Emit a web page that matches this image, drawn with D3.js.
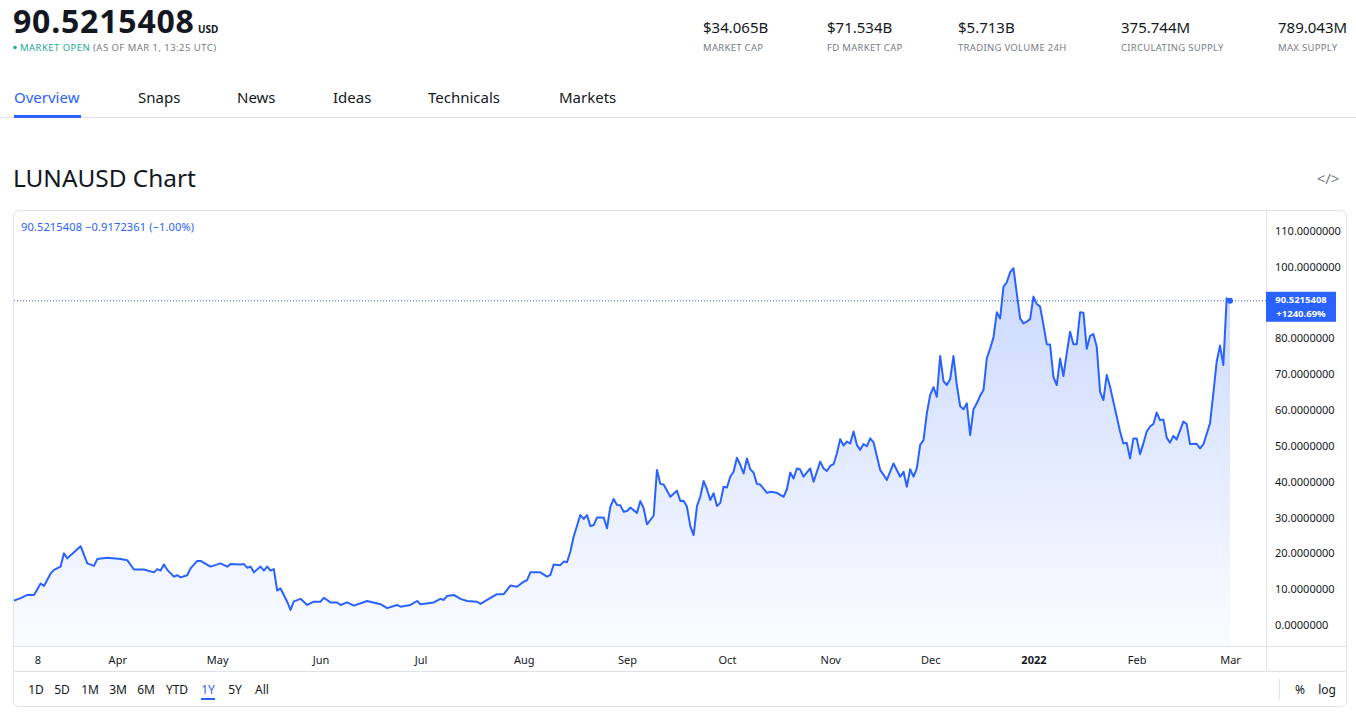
<!DOCTYPE html>
<meta charset="utf-8">
<script src="https://d3js.org/d3.v7.min.js"></script>
<style>
  body { margin: 0; background: #fff; }
  svg { display: block; font-family: "Noto Sans", sans-serif; }
</style>
<div id="page"></div>
<script>

// sampled daily closes, offsets counted in days from the first date
var firstDate = "2021-03-01";
var dayOffsets = [0,2,4,6,8,9,11,12,14,15,16,17,20,22,24,25,28,32,34,36,39,42,43,44,45,46,48,49,50,52,53,55,56,59,62,64,65,68,69,70,71,72,74,75,76,77,78,79,80,82,83,84,86,88,90,92,93,95,97,98,100,102,106,110,112,115,116,119,121,122,126,128,129,130,132,134,136,139,140,142,145,147,149,151,153,154,155,158,160,161,162,164,165,166,167,168,170,171,172,173,174,175,177,178,179,180,181,182,183,184,185,187,188,189,190,192,193,194,195,197,199,200,201,202,203,204,205,206,207,208,209,210,211,212,213,214,215,216,217,218,219,220,221,222,223,224,226,227,229,231,232,233,234,235,236,237,239,240,242,243,244,245,246,247,248,249,250,251,252,253,254,255,256,257,258,260,262,264,266,267,268,269,270,271,272,273,274,275,276,277,278,279,280,281,282,283,284,285,286,287,288,289,290,291,292,293,294,295,296,297,298,299,300,301,302,303,304,305,306,307,308,309,310,311,312,313,314,315,316,317,318,319,320,321,322,323,324,325,326,327,328,329,330,331,332,333,334,335,336,337,338,339,340,341,342,343,344,345,346,347,348,349,351,352,353,355,356,357,359,360,361,362,363,364,365];
var prices = [6.8,7.5,8.4,8.4,11.6,10.9,14.4,15.4,16.3,20.0,18.6,19.5,22.0,17.2,16.5,18.4,18.8,18.4,18.1,15.5,15.5,14.7,15.6,15.2,16.9,15.4,13.5,13.9,13.3,13.9,15.8,17.9,17.9,16.3,17.2,16.3,17.0,16.9,17.0,16.0,16.3,14.7,16.3,15.2,16.3,15.2,15.6,9.6,10.2,6.5,4.2,6.6,7.3,5.6,6.5,6.5,7.6,6.3,6.3,5.6,6.3,5.4,6.7,5.8,4.7,5.6,5.1,5.6,6.7,5.8,6.3,7.3,7.0,8.1,8.4,7.3,6.7,6.5,5.9,7.0,8.6,8.6,11.0,10.7,12.1,12.5,14.7,14.7,13.5,14.0,16.9,16.7,17.7,17.5,20.5,24.7,30.7,29.6,30.7,27.6,27.9,30.0,30.0,27.0,33.0,35.2,33.5,33.4,31.6,31.8,32.8,31.3,34.6,32.6,28.1,30.5,43.3,39.4,39.2,35.8,37.5,34.6,34.7,33.0,27.6,25.1,33.2,35.8,40.2,37.9,34.9,36.8,33.2,34.1,38.6,38.4,41.4,42.8,46.7,44.7,42.3,46.5,43.5,42.5,39.4,39.2,36.9,37.2,36.9,35.8,37.9,42.6,40.9,43.7,43.4,41.4,43.7,40.0,45.6,43.7,43.0,44.4,44.9,47.9,51.9,50.1,51.2,50.7,54.0,50.3,48.9,50.5,49.9,52.1,51.0,43.3,40.5,45.1,41.4,42.8,38.6,43.5,41.4,43.7,50.3,51.6,59.1,64.2,66.4,63.7,75.1,68.1,67.0,68.6,75.1,67.0,61.1,60.2,61.9,53.0,60.2,61.9,64.0,65.6,74.4,77.2,80.3,87.3,85.6,94.4,95.7,98.5,99.6,92.6,85.6,84.2,84.7,85.4,91.7,89.6,88.9,83.8,78.4,78.3,69.3,67.0,74.4,69.5,75.9,81.9,78.4,78.4,87.3,87.2,77.1,80.7,81.2,77.7,65.1,62.8,69.8,66.5,62.3,58.2,54.0,50.7,50.9,46.5,52.1,52.1,47.7,50.7,54.0,55.4,56.1,59.3,57.2,57.4,52.3,50.9,52.8,51.8,56.8,56.1,50.5,50.6,49.3,50.4,56.3,64.7,73.5,78.0,72.6,91.2,90.5215408];

var yTicks = [0,10,20,30,40,50,60,70,80,90,100,110].filter(function(v) { return v != 90; });
var xTickDates = ["2021-03-08","2021-04-01","2021-05-01","2021-06-01","2021-07-01","2021-08-01","2021-09-01","2021-10-01","2021-11-01","2021-12-01","2022-01-01","2022-02-01","2022-03-01"];
var xTickLabels = ["8","Apr","May","Jun","Jul","Aug","Sep","Oct","Nov","Dec","2022","Feb","Mar"];

var statValues = ["$34.065B","$71.534B","$5.713B","375.744M","789.043M"];
var statLabels = ["MARKET CAP","FD MARKET CAP","TRADING VOLUME 24H","CIRCULATING SUPPLY","MAX SUPPLY"];
var tabNames = ["Overview","Snaps","News","Ideas","Technicals","Markets"];
var rangeNames = ["1D","5D","1M","3M","6M","YTD","1Y","5Y","All"];

var W = 1356, H = 712;
var blue = "#2962ff", ink = "#131722", grey = "#787b86", rule = "#e0e3eb";

var svg = d3.select("#page").append("svg")
    .attr("width", W)
    .attr("height", H);

// ---- header ----
var head = svg.append("g");
head.append("text").attr("x", 13).attr("y", 33)
    .attr("font-size", 32).attr("font-weight", 700).attr("fill", ink)
    .attr("letter-spacing", 0.8)
    .text("90.5215408");
head.append("text").attr("x", 198).attr("y", 33)
    .attr("font-size", 10).attr("font-weight", 700).attr("fill", ink)
    .text("USD");
head.append("circle").attr("cx", 15).attr("cy", 47.5).attr("r", 1.8).attr("fill", "#22ab94");
var st = head.append("text").attr("x", 20).attr("y", 51)
    .attr("font-size", 9.5).attr("letter-spacing", 0.45);
st.append("tspan").attr("fill", "#22ab94").text("MARKET OPEN ");
st.append("tspan").attr("fill", grey).text("(AS OF MAR 1, 13:25 UTC)");

var statX = [703, 827, 958, 1121, 1278];
statValues.forEach(function(v, i) {
  head.append("text").attr("x", statX[i]).attr("y", 33)
      .attr("font-size", 15).attr("fill", ink).text(v);
  head.append("text").attr("x", statX[i]).attr("y", 51)
      .attr("font-size", 9.5).attr("letter-spacing", 0.3).attr("fill", grey).text(statLabels[i]);
});

// ---- tabs ----
var tabX = [14, 138, 237, 333, 428, 559];
svg.append("line").attr("x1", 0).attr("x2", W).attr("y1", 117.5).attr("y2", 117.5)
    .attr("stroke", rule);
tabNames.forEach(function(t, i) {
  svg.append("text").attr("x", tabX[i]).attr("y", 103)
      .attr("font-size", 15).attr("fill", i == 0 ? blue : ink).text(t);
});
svg.append("rect").attr("x", 14).attr("y", 115).attr("width", 67).attr("height", 3)
    .attr("fill", blue);

// ---- chart title ----
svg.append("text").attr("x", 13).attr("y", 187)
    .attr("font-size", 24.4).attr("fill", ink).text("LUNAUSD Chart");
svg.append("text").attr("x", 1328).attr("y", 184).attr("text-anchor", "middle")
    .attr("font-size", 15).attr("fill", grey).text("</>");

// ---- chart frame ----
var box = {left: 13, top: 210, right: 1346, bottom: 706};
var plot = {left: 14, right: 1266, top: 211, bottom: 646};

svg.append("rect")
    .attr("x", box.left + 0.5).attr("y", box.top + 0.5)
    .attr("width", box.right - box.left).attr("height", box.bottom - box.top)
    .attr("rx", 6).attr("fill", "none").attr("stroke", rule);
svg.append("line").attr("x1", plot.right + 0.5).attr("x2", plot.right + 0.5)
    .attr("y1", box.top).attr("y2", 671).attr("stroke", rule);
svg.append("line").attr("x1", box.left).attr("x2", box.right)
    .attr("y1", plot.bottom + 0.5).attr("y2", plot.bottom + 0.5).attr("stroke", rule);
svg.append("line").attr("x1", box.left).attr("x2", box.right)
    .attr("y1", 671.5).attr("y2", 671.5).attr("stroke", rule);

// ---- scales ----
var parse = d3.utcParse("%Y-%m-%d");
var t0 = parse(firstDate);
var data = dayOffsets.map(function(d, i) {
  return {date: d3.utcDay.offset(t0, d), value: prices[i]};
});

var x = d3.scaleUtc()
    .domain(d3.extent(data, function(d) { return d.date; }))
    .range([14, 1230]);
var y = d3.scaleLinear()
    .domain([0, 110])
    .range([625, 231]);

// gradient under the line
var grad = svg.append("defs").append("linearGradient")
    .attr("id", "fade").attr("gradientUnits", "userSpaceOnUse")
    .attr("x1", 0).attr("x2", 0).attr("y1", plot.top).attr("y2", plot.bottom);
grad.append("stop").attr("offset", 0).attr("stop-color", blue).attr("stop-opacity", 0.28);
grad.append("stop").attr("offset", 1).attr("stop-color", blue).attr("stop-opacity", 0.02);

svg.append("path")
    .datum(data)
    .attr("fill", "url(#fade)")
    .attr("d", d3.area()
      .x(function(d) { return x(d.date); })
      .y0(plot.bottom)
      .y1(function(d) { return y(d.value); }));

// last price guide
var last = data[data.length - 1];
svg.append("line")
    .attr("x1", plot.left).attr("x2", plot.right)
    .attr("y1", y(last.value)).attr("y2", y(last.value))
    .attr("stroke", blue).attr("stroke-dasharray", "1,2");

svg.append("path")
    .datum(data)
    .attr("fill", "none")
    .attr("stroke", blue)
    .attr("stroke-width", 2)
    .attr("stroke-linejoin", "round")
    .attr("d", d3.line()
      .x(function(d) { return x(d.date); })
      .y(function(d) { return y(d.value); }));

svg.append("circle").attr("cx", x(last.date)).attr("cy", y(last.value))
    .attr("r", 3).attr("fill", blue);

// legend
svg.append("text").attr("x", 21).attr("y", 231)
    .attr("font-size", 11).attr("letter-spacing", 0.15).attr("fill", blue)
    .text("90.5215408 \u22120.9172361 (\u22121.00%)");

// ---- right price axis ----
var yAxis = svg.append("g")
    .attr("transform", "translate(" + plot.right + ",0)")
    .call(d3.axisRight(y).tickValues(yTicks).tickSize(0).tickPadding(9)
      .tickFormat(function(d) { return d.toFixed(7); }));
yAxis.select(".domain").remove();
yAxis.selectAll("text").attr("font-size", 11).attr("fill", ink)
    .attr("font-family", "Noto Sans, sans-serif");

// price label, two lines
var tag = svg.append("g").attr("transform", "translate(" + plot.right + "," + (y(last.value) - 9) + ")");
tag.append("rect").attr("width", 70).attr("height", 30).attr("fill", blue);
var tagText = tag.append("text").attr("text-anchor", "middle")
    .attr("font-size", 9.5).attr("font-weight", 700).attr("fill", "#fff");
tagText.append("tspan").attr("x", 35).attr("y", 11).text("90.5215408");
tagText.append("tspan").attr("x", 35).attr("y", 25).text("+1240.69%");

// ---- time axis ----
var xAxis = svg.append("g")
    .attr("transform", "translate(0," + plot.bottom + ")")
    .call(d3.axisBottom(x).tickValues(xTickDates.map(parse)).tickSize(0).tickPadding(10)
      .tickFormat(function(d, i) { return xTickLabels[i]; }));
xAxis.select(".domain").remove();
xAxis.selectAll("text").attr("font-size", 11).attr("fill", ink)
    .attr("font-family", "Noto Sans, sans-serif")
    .attr("font-weight", function(d, i) { return xTickLabels[i] == "2022" ? 700 : 400; });

// ---- range buttons ----
var rangeX = [36, 62, 90, 118, 146, 177, 208, 235, 262];
rangeNames.forEach(function(r, i) {
  svg.append("text").attr("x", rangeX[i]).attr("y", 694).attr("text-anchor", "middle")
      .attr("font-size", 12).attr("fill", r == "1Y" ? blue : ink).text(r);
});
svg.append("rect").attr("x", 201).attr("y", 698).attr("width", 14).attr("height", 2).attr("fill", blue);
svg.append("line").attr("x1", 1279.5).attr("x2", 1279.5).attr("y1", 679).attr("y2", 700).attr("stroke", rule);
svg.append("text").attr("x", 1300).attr("y", 694).attr("text-anchor", "middle")
    .attr("font-size", 12).attr("fill", ink).text("%");
svg.append("text").attr("x", 1327).attr("y", 694).attr("text-anchor", "middle")
    .attr("font-size", 12).attr("fill", ink).text("log");

</script>
